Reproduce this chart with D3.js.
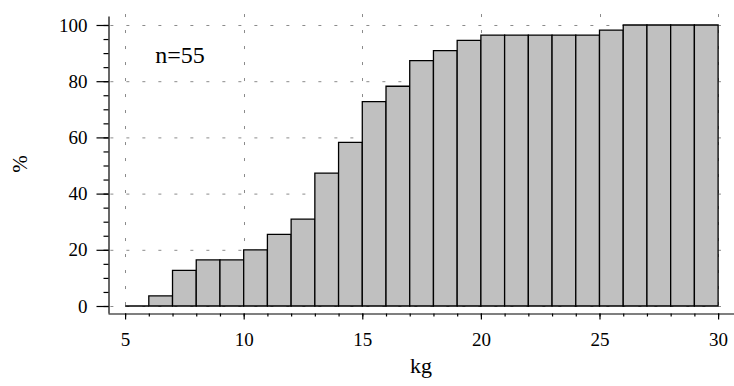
<!DOCTYPE html>
<html>
<head>
<meta charset="utf-8">
<script src="https://cdn.jsdelivr.net/npm/d3@7"></script>
<style>
  html, body { margin: 0; padding: 0; background: #fff; }
  svg { display: block; }
</style>
</head>
<body>
<svg id="chart" width="734" height="386"></svg>
<script>
// Cumulative distribution of weights, 1 kg bins from 5 to 30 kg
const binStarts = [5, 6, 7, 8, 9, 10, 11, 12, 13, 14, 15, 16, 17, 18, 19, 20, 21, 22, 23, 24, 25, 26, 27, 28, 29];
const cumulativePct = [0, 3.6, 12.7, 16.4, 16.4, 20.0, 25.5, 30.9, 47.3, 58.2, 72.7, 78.2, 87.3, 90.9, 94.5,
                       96.4, 96.4, 96.4, 96.4, 96.4, 98.2, 100, 100, 100, 100];
const binWidth = 1;
const xMajorTicks = [5, 10, 15, 20, 25, 30];
const yMajorTicks = [0, 20, 40, 60, 80, 100];
const sampleLabel = "n=55";
const xTitle = "kg";
const yTitle = "%";

const FONT = "Liberation Serif, Times New Roman, Times, serif";

const svg = d3.select("#chart");

// scales: domains padded so the axis lines run past the data area
const x = d3.scaleLinear().domain([4.28, 30.67]).range([108, 734]);
const y = d3.scaleLinear().domain([-2.49, 103.2]).range([313, 16]);

const xMinorTicks = d3.range(5, 31, 1);
const yMinorTicks = d3.range(0, 101, 5);

// dashed grid
const grid = svg.append("g").attr("stroke", "#8a8a8a").attr("stroke-width", 1)
  .attr("stroke-dasharray", "3,13");
grid.selectAll("line.h").data(yMajorTicks).join("line")
  .attr("class", "h")
  .attr("x1", x(4.38)).attr("x2", x(30.12))
  .attr("y1", d => y(d) + 0.5).attr("y2", d => y(d) + 0.5);
grid.selectAll("line.v").data(xMajorTicks).join("line")
  .attr("class", "v")
  .attr("x1", d => Math.round(x(d)) + 0.5).attr("x2", d => Math.round(x(d)) + 0.5)
  .attr("y1", y(103.9)).attr("y2", y(0));

// bars as closed outlines, so an empty bin still shows its baseline
svg.append("g").selectAll("path").data(binStarts).join("path")
  .attr("d", (d, i) => {
    const x0 = x(d), x1 = x(d + binWidth);
    const y0 = y(0), y1 = y(cumulativePct[i]);
    return `M${x0},${y0}L${x0},${y1}L${x1},${y1}L${x1},${y0}Z`;
  })
  .attr("fill", "#c0c0c0")
  .attr("stroke", "#000")
  .attr("stroke-width", 1.3);

// y axis: minor then major ticks
svg.append("g").attr("transform", "translate(108.5,0)")
  .call(d3.axisLeft(y).tickValues(yMinorTicks).tickSize(5).tickSizeOuter(0).tickFormat(""));
const yMajor = svg.append("g").attr("transform", "translate(108.5,0)")
  .call(d3.axisLeft(y).tickValues(yMajorTicks).tickSize(12).tickSizeOuter(0).tickPadding(9));
yMajor.select(".domain").remove();

// x axis: minor then major ticks
svg.append("g").attr("transform", "translate(0,313.5)")
  .call(d3.axisBottom(x).tickValues(xMinorTicks).tickSize(3).tickSizeOuter(0).tickFormat(""));
const xMajor = svg.append("g").attr("transform", "translate(0,313.5)")
  .call(d3.axisBottom(x).tickValues(xMajorTicks).tickSize(6).tickSizeOuter(0).tickPadding(13));
xMajor.select(".domain").remove();

svg.selectAll(".domain, .tick line").attr("stroke", "#000").attr("stroke-width", 1.2);
svg.selectAll(".tick text")
  .attr("fill", "#000")
  .style("font-family", FONT)
  .style("font-size", "19px");

// titles
svg.append("text")
  .attr("x", 421).attr("y", 373)
  .attr("text-anchor", "middle")
  .style("font-family", FONT).style("font-size", "22px")
  .text(xTitle);

svg.append("text")
  .attr("transform", "translate(27,164) rotate(-90)")
  .attr("text-anchor", "middle")
  .style("font-family", FONT).style("font-size", "21px")
  .text(yTitle);

svg.append("text")
  .attr("x", x(6.27)).attr("y", y(86.5))
  .style("font-family", FONT).style("font-size", "24px")
  .text(sampleLabel);
</script>
</body>
</html>
